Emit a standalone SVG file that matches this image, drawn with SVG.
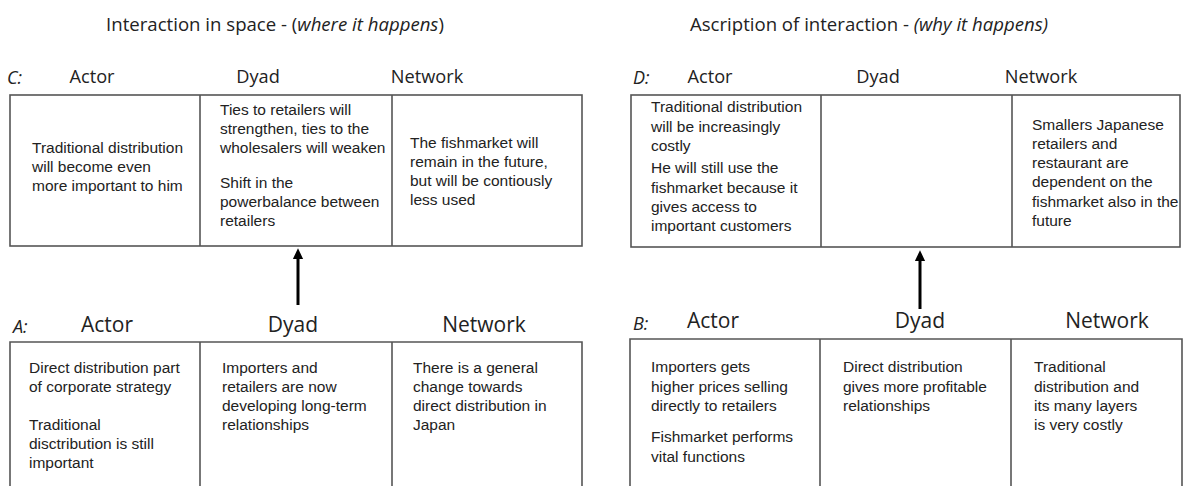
<svg xmlns="http://www.w3.org/2000/svg" width="1195" height="486" viewBox="0 0 1195 486">
<style>
.title{font-family:"Open Sans","DejaVu Sans",sans-serif;font-size:18.6px;fill:#222;text-anchor:middle}
.hd{font-family:"Open Sans","DejaVu Sans",sans-serif;font-size:18.2px;fill:#222;text-anchor:middle}
.hd2{font-family:"Open Sans","DejaVu Sans",sans-serif;font-size:21px;fill:#222;text-anchor:middle}
.lbl{font-family:"Open Sans","DejaVu Sans",sans-serif;font-size:18px;fill:#222;font-style:italic}
.t{font-family:"Liberation Sans",Arial,sans-serif;font-size:15.5px;fill:#222}
.box{fill:#fff;stroke:#555;stroke-width:1.6}
.div{stroke:#555;stroke-width:1.6}
.arr{stroke:#000;stroke-width:3;fill:none}
</style>
<defs>
<marker id="ah" markerWidth="4" markerHeight="4" refX="0" refY="1.7" orient="auto" markerUnits="strokeWidth">
<path d="M0,0 L3.6,1.7 L0,3.4 Z" fill="#000"/>
</marker>
</defs>
<rect width="1195" height="486" fill="#fff"/>
<text class="title" x="275" y="31">Interaction in space - (<tspan font-style="italic">where it happens</tspan>)</text>
<text class="title" x="869" y="31">Ascription of interaction - <tspan font-style="italic">(why it happens)</tspan></text>

<g id="tableC">
<text class="lbl" x="7" y="84">C:</text>
<text class="hd" x="92" y="83">Actor</text>
<text class="hd" x="258" y="83">Dyad</text>
<text class="hd" x="427" y="83">Network</text>
<rect class="box" x="10" y="95" width="572" height="151"/>
<line class="div" x1="200" y1="95" x2="200" y2="246"/>
<line class="div" x1="392" y1="95" x2="392" y2="246"/>
<text class="t"><tspan x="32" y="153">Traditional distribution</tspan><tspan x="32" y="172">will become even</tspan><tspan x="32" y="191">more important to him</tspan></text>
<text class="t"><tspan x="220" y="115">Ties to retailers will</tspan><tspan x="220" y="134">strengthen, ties to the</tspan><tspan x="220" y="153">wholesalers will weaken</tspan><tspan x="220" y="188">Shift in the</tspan><tspan x="220" y="207">powerbalance between</tspan><tspan x="220" y="226">retailers</tspan></text>
<text class="t"><tspan x="410" y="148">The fishmarket will</tspan><tspan x="410" y="167">remain in the future,</tspan><tspan x="410" y="186">but will be contiously</tspan><tspan x="410" y="205">less used</tspan></text>
</g>

<g id="tableD">
<text class="lbl" x="633" y="84">D:</text>
<text class="hd" x="710" y="83">Actor</text>
<text class="hd" x="878" y="83">Dyad</text>
<text class="hd" x="1041" y="83">Network</text>
<rect class="box" x="631" y="95" width="549" height="152"/>
<line class="div" x1="821" y1="95" x2="821" y2="247"/>
<line class="div" x1="1012" y1="95" x2="1012" y2="247"/>
<text class="t"><tspan x="651" y="112">Traditional distribution</tspan><tspan x="651" y="132">will be increasingly</tspan><tspan x="651" y="151">costly</tspan><tspan x="651" y="173">He will still use the</tspan><tspan x="651" y="193">fishmarket because it</tspan><tspan x="651" y="212">gives access to</tspan><tspan x="651" y="231">important customers</tspan></text>
<text class="t"><tspan x="1032" y="130">Smallers Japanese</tspan><tspan x="1032" y="149">retailers and</tspan><tspan x="1032" y="168">restaurant are</tspan><tspan x="1032" y="187">dependent on the</tspan><tspan x="1032" y="207">fishmarket also in the</tspan><tspan x="1032" y="226">future</tspan></text>
</g>

<g id="tableA">
<text class="lbl" x="13" y="333">A:</text>
<text class="hd2" x="107" y="332">Actor</text>
<text class="hd2" x="293" y="332">Dyad</text>
<text class="hd2" x="484" y="332">Network</text>
<path class="div" fill="none" d="M10,500 V342 H582 V500"/>
<line class="div" x1="200" y1="342" x2="200" y2="500"/>
<line class="div" x1="392" y1="342" x2="392" y2="500"/>
<text class="t"><tspan x="29" y="373">Direct distribution part</tspan><tspan x="29" y="392">of corporate strategy</tspan><tspan x="29" y="430">Traditional</tspan><tspan x="29" y="449">disctribution is still</tspan><tspan x="29" y="468">important</tspan></text>
<text class="t"><tspan x="222" y="373">Importers and</tspan><tspan x="222" y="392">retailers are now</tspan><tspan x="222" y="411">developing long-term</tspan><tspan x="222" y="430">relationships</tspan></text>
<text class="t"><tspan x="413" y="373">There is a general</tspan><tspan x="413" y="392">change towards</tspan><tspan x="413" y="411">direct distribution in</tspan><tspan x="413" y="430">Japan</tspan></text>
</g>

<g id="tableB">
<text class="lbl" x="633" y="330">B:</text>
<text class="hd2" x="713" y="328">Actor</text>
<text class="hd2" x="920" y="328">Dyad</text>
<text class="hd2" x="1107" y="328">Network</text>
<path class="div" fill="none" d="M630,500 V339 H1182 V500"/>
<line class="div" x1="820" y1="339" x2="820" y2="500"/>
<line class="div" x1="1011" y1="339" x2="1011" y2="500"/>
<text class="t"><tspan x="651" y="372">Importers gets</tspan><tspan x="651" y="392">higher prices selling</tspan><tspan x="651" y="411">directly to retailers</tspan><tspan x="651" y="442">Fishmarket performs</tspan><tspan x="651" y="462">vital functions</tspan></text>
<text class="t"><tspan x="843" y="372">Direct distribution</tspan><tspan x="843" y="392">gives more profitable</tspan><tspan x="843" y="411">relationships</tspan></text>
<text class="t"><tspan x="1034" y="372">Traditional</tspan><tspan x="1034" y="392">distribution and</tspan><tspan x="1034" y="411">its many layers</tspan><tspan x="1034" y="430">is very costly</tspan></text>
</g>

<g id="connectors">
<line class="arr" x1="298" y1="305" x2="298" y2="259" marker-end="url(#ah)"/>
<line class="arr" x1="920" y1="309" x2="920" y2="261" marker-end="url(#ah)"/>
</g>
</svg>
